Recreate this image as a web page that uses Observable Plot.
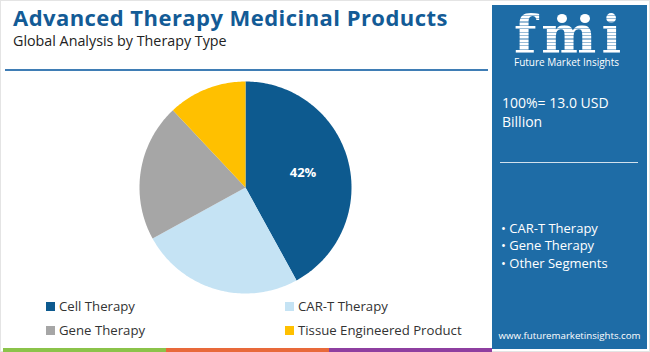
<!DOCTYPE html>
<html><head><meta charset="utf-8">
<script src="https://cdn.jsdelivr.net/npm/d3@7"></script>
<script src="https://cdn.jsdelivr.net/npm/@observablehq/plot@0.6"></script>
<style>
body{margin:0;background:#fff;}
#wrap{position:relative;width:650px;height:352px;overflow:hidden;background:#fff;box-shadow:inset 0 0 0 1px #e4e4e4;font-family:"Open Sans","Lato",sans-serif;}
#title{position:absolute;left:13px;top:3px;font-size:22px;letter-spacing:0.45px;font-weight:700;color:#135b96;white-space:nowrap;line-height:28px;}
#sub{position:absolute;left:13px;top:31px;font-size:14.3px;color:#222;white-space:nowrap;line-height:20px;}
#rule{position:absolute;left:5px;top:69px;width:483px;height:2px;background:#3f7db5;}
#chart{position:absolute;left:0;top:76px;}
.leg{position:absolute;font-size:13.2px;color:#333;white-space:nowrap;line-height:18px;}
.leg span{display:inline-block;width:9px;height:9px;margin-right:4px;vertical-align:0px;}
#panel{position:absolute;left:492px;top:5px;width:155px;height:344px;background:#1e6ca6;color:#fff;}
#panel .t{position:absolute;white-space:nowrap;}
#logo{position:absolute;left:22px;top:4px;font-family:"DejaVu Serif",serif;font-weight:700;font-size:52px;line-height:52px;letter-spacing:5px;white-space:nowrap;
 background:repeating-linear-gradient(180deg,#fff 0 2.2px,rgba(255,255,255,0.55) 2.2px 3.4px);-webkit-background-clip:text;background-clip:text;color:transparent;}
.dot{position:absolute;width:10px;height:9px;border-radius:50%;background:#fff;}
#stripe div{position:absolute;top:348px;height:4px;}
</style></head><body>
<div id="wrap">
 <div id="title"></div>
 <div id="sub"></div>
 <div id="rule"></div>
 <div id="chart"></div>
 <div id="legend"></div>
 <div id="panel"></div>
 <div id="stripe"></div>
</div>
<script>
const titleText = "Advanced Therapy Medicinal Products";
const subtitleText = "Global Analysis by Therapy Type";
const categories = ["Cell Therapy", "CAR-T Therapy", "Gene Therapy", "Tissue Engineered Product"];
const shares = [42, 25, 21, 12];
const sliceLabels = ["42%", "", "", ""];
const colors = ["#0d5a8f", "#c5e3f4", "#a6a6a6", "#ffc000"];
const totalLines = ["100%= 13.0 USD", "Billion"];
const panelItems = ["CAR-T Therapy", "Gene Therapy", "Other Segments"];
const brand = "Future Market Insights";
const site = "www.futuremarketinsights.com";
const stripeColors = ["#8bc34a", "#e8693a", "#8e3fa0"];

document.getElementById("title").textContent = titleText;
document.getElementById("sub").textContent = subtitleText;

// pie geometry via d3.pie (angles clockwise from 12 o'clock)
const data = categories.map((name, i) => ({name, share: shares[i], label: sliceLabels[i]}));
const arcs = d3.pie().sort(null).value(d => d.share)(data);
const pts = [];
arcs.forEach(a => {
  const n = Math.max(2, Math.ceil((a.endAngle - a.startAngle) / (Math.PI / 180)));
  pts.push({name: a.data.name, x: 0, y: 0});
  for (let k = 0; k <= n; k++) {
    const t = a.startAngle + (a.endAngle - a.startAngle) * k / n;
    pts.push({name: a.data.name, x: Math.sin(t), y: Math.cos(t)});
  }
  pts.push({name: a.data.name, x: 0, y: 0});
});
const labelPts = arcs.filter(a => a.data.label).map(a => {
  const t = (a.startAngle + a.endAngle) / 2;
  return {x: 0.56 * Math.sin(t), y: 0.56 * Math.cos(t), label: a.data.label};
});

const W = 490, H = 224, R = 106, cx = 245, cy = 111;
const chart = Plot.plot({
  width: W, height: H, margin: 0,
  style: {background: "transparent", overflow: "visible"},
  x: {domain: [-cx / R, (W - cx) / R], axis: null},
  y: {domain: [-(H - cy) / R, cy / R], axis: null},
  color: {domain: categories, range: colors},
  marks: [
    Plot.line(pts, {x: "x", y: "y", z: "name", fill: "name", stroke: "none", curve: "linear"}),
    Plot.text(labelPts, {x: "x", y: "y", text: "label", fill: "white", fontSize: 13, fontWeight: "bold", fontFamily: "Open Sans, sans-serif"})
  ]
});
document.getElementById("chart").appendChild(chart);

// legend
const legPos = [[46, 297], [285, 297], [46, 321], [285, 321]];
const leg = document.getElementById("legend");
categories.forEach((c, i) => {
  const d = document.createElement("div");
  d.className = "leg";
  d.style.left = legPos[i][0] + "px";
  d.style.top = legPos[i][1] + "px";
  const s = document.createElement("span");
  s.style.background = colors[i];
  d.appendChild(s);
  d.appendChild(document.createTextNode(c));
  leg.appendChild(d);
});

// right panel
const panel = document.getElementById("panel");
function addT(text, left, top, size, extra) {
  const d = document.createElement("div");
  d.className = "t";
  d.textContent = text;
  d.style.left = left + "px"; d.style.top = top + "px";
  d.style.fontSize = size + "px";
  if (extra) Object.assign(d.style, extra);
  panel.appendChild(d);
  return d;
}
const logo = document.createElement("div");
logo.id = "logo"; logo.textContent = "fmi";
panel.appendChild(logo);
[[65, 8.5], [88, 8.5]].forEach(([l, t]) => {
  const d = document.createElement("div");
  d.className = "dot"; d.style.left = l + "px"; d.style.top = t + "px";
  panel.appendChild(d);
});
addT(brand, 22, 51, 10, {lineHeight: "12px"});
addT(totalLines[0], 10, 88, 14, {lineHeight: "20px"});
addT(totalLines[1], 10, 107, 14, {lineHeight: "20px"});
const ln = document.createElement("div");
Object.assign(ln.style, {position: "absolute", left: "8px", top: "157px", width: "138px", height: "1px", background: "rgba(255,255,255,0.8)"});
panel.appendChild(ln);
panelItems.forEach((t, i) => addT("\u2022 " + t, 9, 214 + i * 17.3, 13, {lineHeight: "18px"}));
addT(site, 0, 323, 9.7, {lineHeight: "16px", width: "155px", textAlign: "center", letterSpacing: "0px"});

// bottom stripe
const st = document.getElementById("stripe");
stripeColors.forEach((c, i) => {
  const d = document.createElement("div");
  d.style.left = (3 + i * 163) + "px"; d.style.width = "163px"; d.style.background = c;
  st.appendChild(d);
});
</script>
</body></html>
